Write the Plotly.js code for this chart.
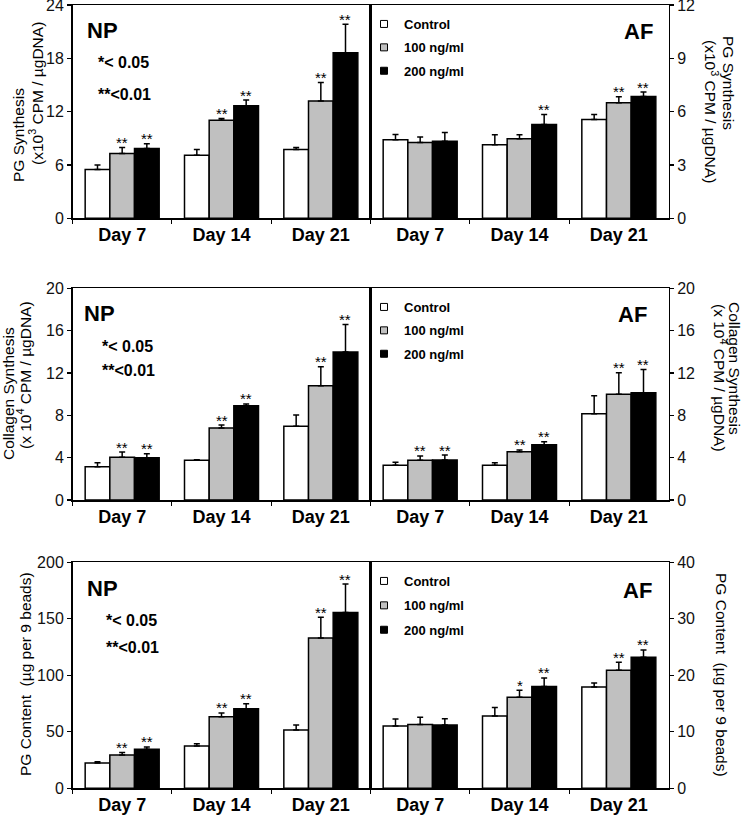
<!DOCTYPE html>
<html>
<head>
<meta charset="utf-8">
<script src="https://cdn.plot.ly/plotly-3.0.1.min.js"></script>
<style>html,body{margin:0;padding:0;background:#fff;}#chart{width:742px;height:819px;}</style>
</head>
<body>
<div id="chart"></div>
<script>
// ---------- data ----------
const days = ["Day 7", "Day 14", "Day 21"];
const seriesNames = ["Control", "100 ng/ml", "200 ng/ml"];

// Row 1: PG synthesis (x10^3 CPM / ugDNA)   [Control, 100 ng/ml, 200 ng/ml] x [Day 7, 14, 21]
const pgSynNP_mean = [[5.48, 7.10, 7.74], [7.30, 11.04, 13.20], [7.85, 12.67, 18.63]];
const pgSynNP_err  = [[0.52, 0.63, 0.22], [0.66, 0.20, 2.07], [0.55, 0.63, 3.20]];
const pgSynNP_sig  = [["", "", ""], ["**", "**", "**"], ["**", "**", "**"]];
const pgSynAF_mean = [[4.42, 4.14, 5.56], [4.27, 4.48, 6.50], [4.34, 5.28, 6.85]];
const pgSynAF_err  = [[0.30, 0.56, 0.28], [0.30, 0.22, 0.34], [0.49, 0.56, 0.25]];
const pgSynAF_sig  = [["", "", ""], ["", "", "**"], ["", "**", "**"]];

// Row 2: Collagen synthesis (x 10^4 CPM / ugDNA)
const colNP_mean = [[3.15, 3.75, 6.96], [4.03, 6.80, 10.80], [4.00, 8.91, 13.98]];
const colNP_err  = [[0.38, 0.06, 1.07], [0.50, 0.28, 1.80], [0.38, 0.16, 2.60]];
const colNP_sig  = [["", "", ""], ["**", "**", "**"], ["**", "**", "**"]];
const colAF_mean = [[3.28, 3.28, 8.16], [3.75, 4.57, 9.98], [3.78, 5.23, 10.14]];
const colAF_err  = [[0.28, 0.25, 1.70], [0.41, 0.16, 2.05], [0.47, 0.28, 2.20]];
const colAF_sig  = [["", "", ""], ["**", "**", "**"], ["**", "**", "**"]];

// Row 3: PG content (ug per 9 beads)
const pgConNP_mean = [[22.4, 37.5, 51.6], [29.5, 63.4, 133.0], [34.5, 70.5, 155.5]];
const pgConNP_err  = [[1.2, 2.0, 4.4], [2.1, 3.3, 18.3], [2.1, 4.4, 25.3]];
const pgConNP_sig  = [["", "", ""], ["**", "**", "**"], ["**", "**", "**"]];
const pgConAF_mean = [[11.03, 12.80, 17.93], [11.27, 16.10, 20.88], [11.20, 18.00, 23.19]];
const pgConAF_err  = [[1.24, 1.48, 0.71], [1.30, 1.25, 1.42], [1.10, 1.53, 1.30]];
const pgConAF_sig  = [["", "", ""], ["", "*", "**"], ["", "**", "**"]];

const yRangesNP = [[0, 24], [0, 20], [0, 200]];
const yTicksNP  = [6, 4, 50];
const yRangesAF = [[0, 12], [0, 20], [0, 40]];
const yTicksAF  = [3, 4, 10];

// ---------- styling / layout ----------
const W = 742, H = 819;
const FONT = "Liberation Sans, Arial, Helvetica, sans-serif";
const barColors = ["#ffffff", "#c0c0c0", "#000000"];
const xNP = [72.5 / W, 370.5 / W];
const xAF = [370.5 / W, 668.5 / W];
const rowPx = [[5, 218.3], [288.3, 500], [562.3, 788.3]];
const px2py = p => 1 - p / H;
const BARGAP = 0.255;
const barPx = ((370.5 - 72.5) / 3) * (1 - BARGAP) / 3;

const panels = [
  [pgSynNP_mean, pgSynNP_err, pgSynNP_sig, pgSynAF_mean, pgSynAF_err, pgSynAF_sig],
  [colNP_mean, colNP_err, colNP_sig, colAF_mean, colAF_err, colAF_sig],
  [pgConNP_mean, pgConNP_err, pgConNP_sig, pgConAF_mean, pgConAF_err, pgConAF_sig]
];

const traces = [];
const annotations = [];
const layout = {
  width: W, height: H,
  margin: {l: 0, r: 0, t: 0, b: 0},
  paper_bgcolor: "#fff", plot_bgcolor: "#fff",
  barmode: "group", bargap: BARGAP, bargroupgap: 0,
  font: {family: FONT, color: "#000"},
  annotations: annotations
};

function axisSuffix(n) { return n === 1 ? "" : String(n); }

for (let r = 0; r < 3; r++) {
  const rowDomain = [px2py(rowPx[r][1]), px2py(rowPx[r][0])];
  for (let side = 0; side < 2; side++) {
    const n = 2 * r + side + 1;
    const sfx = axisSuffix(n);
    const mean = panels[r][side * 3], err = panels[r][side * 3 + 1], sig = panels[r][side * 3 + 2];
    layout["xaxis" + sfx] = {
      domain: side === 0 ? xNP : xAF,
      anchor: "y" + sfx,
      type: "category",
      showline: true, linecolor: "#000", linewidth: 1.5, mirror: true,
      ticks: "outside", tickson: "boundaries", ticklen: 4, tickwidth: 1.2, tickcolor: "#000",
      showgrid: false, zeroline: false,
      tickfont: {family: FONT, size: 18, color: "#000", weight: "bold"},
      fixedrange: true
    };
    layout["yaxis" + sfx] = {
      domain: rowDomain,
      anchor: "x" + sfx,
      side: side === 0 ? "left" : "right",
      range: side === 0 ? yRangesNP[r] : yRangesAF[r],
      dtick: side === 0 ? yTicksNP[r] : yTicksAF[r],
      tick0: 0,
      showline: true, linecolor: "#000", linewidth: 1.5, mirror: true,
      ticks: "outside", ticklen: 4, tickwidth: 1.2, tickcolor: "#000",
      ticklabeloverflow: "allow",
      showgrid: false, zeroline: false,
      tickfont: {family: FONT, size: 16, color: "#111"},
      fixedrange: true
    };
    for (let s = 0; s < 3; s++) {
      traces.push({
        type: "bar",
        x: days, y: mean[s],
        name: seriesNames[s],
        xaxis: "x" + sfx, yaxis: "y" + sfx,
        showlegend: false,
        marker: {color: barColors[s], line: {color: "#000", width: 1.5}},
        error_y: {type: "data", symmetric: false, array: err[s], arrayminus: [0, 0, 0],
                  color: "#000", thickness: 1.5, width: 3},
        hoverinfo: "skip"
      });
      for (let d = 0; d < days.length; d++) {
        if (sig[s][d]) {
          annotations.push({
            xref: "x" + sfx, yref: "y" + sfx,
            x: days[d], y: mean[s][d] + err[s][d],
            xshift: (s - 1) * barPx, yshift: 5,
            yanchor: "middle", xanchor: "center",
            text: sig[s][d], showarrow: false,
            font: {family: FONT, size: 15, color: "#000"}
          });
        }
      }
    }
    if (side === 1) {
      const legName = r === 0 ? "legend" : "legend" + (r + 1);
      for (let s = 0; s < 3; s++) {
        traces.push({
          type: "scatter", mode: "markers",
          x: [null], y: [null],
          xaxis: "x" + sfx, yaxis: "y" + sfx,
          name: seriesNames[s],
          legend: legName, legendgroup: "g" + r + s,
          showlegend: true,
          marker: {symbol: "square", size: 7, color: barColors[s], line: {color: "#000", width: 1}}
        });
      }
    }
  }
}

const legendTops = [9, 292, 566];
["legend", "legend2", "legend3"].forEach((k, i) => {
  layout[k] = {
    x: 364 / W, xanchor: "left",
    y: px2py(legendTops[i]), yanchor: "top",
    bgcolor: "rgba(0,0,0,0)", borderwidth: 0,
    traceorder: "grouped", tracegroupgap: i === 2 ? 4.5 : 3.5,
    font: {family: FONT, size: 13, color: "#000", weight: "bold"},
    itemclick: false, itemdoubleclick: false
  };
});

// Panel labels, p-values
function paperText(text, xp, yp, size, opts) {
  annotations.push(Object.assign({
    xref: "paper", yref: "paper", x: xp / W, y: px2py(yp),
    text: text, showarrow: false,
    xanchor: "center", yanchor: "middle",
    font: {family: FONT, size: size, color: "#000"}
  }, opts || {}));
}
const npPos = [[102, 31], [99, 313], [102, 588]];
const afPos = [[638, 32], [632, 314], [637, 590]];
const p05Pos = [[96, 63], [100, 346], [104, 620]];
const p01Pos = [[96, 94], [100, 371], [104, 647]];
for (let r = 0; r < 3; r++) {
  paperText("<b>NP</b>", npPos[r][0], npPos[r][1], 22);
  paperText("<b>AF</b>", afPos[r][0], afPos[r][1], 22);
  paperText("<b>*< 0.05</b>", p05Pos[r][0], p05Pos[r][1], 16, {xanchor: "left"});
  paperText("<b>**<0.01</b>", p01Pos[r][0], p01Pos[r][1], 16, {xanchor: "left"});
}

// Y-axis titles (rotated)
const TS = 15.5;
paperText("PG Synthesis", 19, 135, TS, {textangle: -90});
paperText("(x10<sup>3</sup> CPM / µgDNA)", 36, 94, TS, {textangle: -90});
paperText("PG Synthesis", 728, 83, TS, {textangle: 90});
paperText("(x10<sup>3</sup> CPM / µgDNA)", 711, 111, TS, {textangle: 90});
paperText("Collagen Synthesis", 8, 394, TS, {textangle: -90});
paperText("(x 10<sup>4</sup> CPM / µgDNA)", 24, 375, TS, {textangle: -90});
paperText("Collagen Synthesis", 734, 368, TS, {textangle: 90});
paperText("(x 10<sup>4</sup> CPM / µgDNA)", 720, 378, TS, {textangle: 90});
paperText("PG Content  (µg per 9 beads)", 25, 674, TS, {textangle: -90});
paperText("PG Content  (µg per 9 beads)", 722, 675, TS, {textangle: 90});

Plotly.newPlot("chart", traces, layout, {staticPlot: true, displayModeBar: false});
</script>
</body>
</html>
